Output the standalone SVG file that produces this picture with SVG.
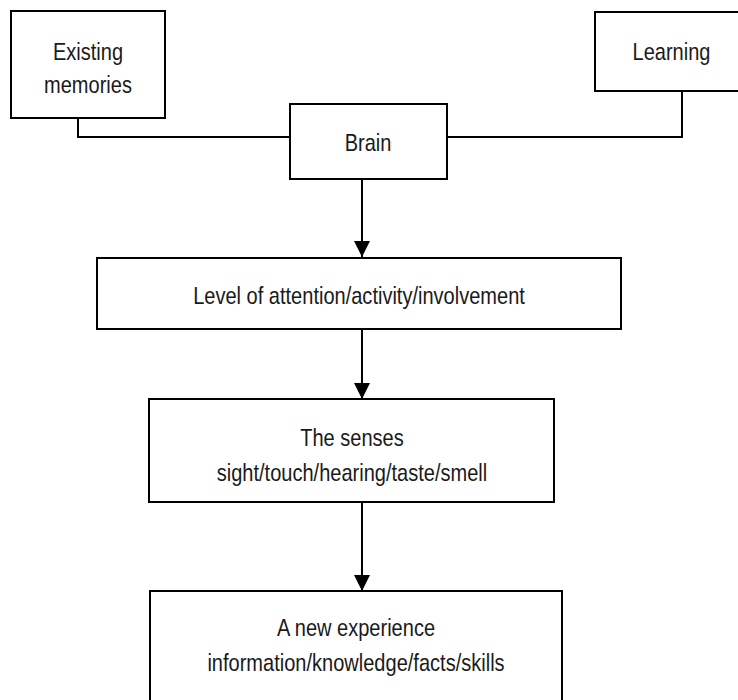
<svg xmlns="http://www.w3.org/2000/svg" width="738" height="700" viewBox="0 0 738 700">
<defs>
<style>
.box{fill:#fff;stroke:#000;stroke-width:2}
.ln{fill:none;stroke:#000;stroke-width:2}
.t{font-family:"Liberation Sans",Arial,sans-serif;font-size:24px;fill:#1a1a1a;text-anchor:middle}
</style>
<marker id="ah" markerWidth="16" markerHeight="16" viewBox="0 0 16 16" refX="16" refY="8" orient="auto" markerUnits="userSpaceOnUse">
<path d="M0,0 L16,8 L0,16 Z" fill="#000"/>
</marker>
</defs>
<rect width="738" height="700" fill="#fff"/>
<g id="connectors">
<path class="ln" d="M78,118 V137 H290"/>
<path class="ln" d="M682,91 V137 H447"/>
<path class="ln" d="M362,180 V257" marker-end="url(#ah)"/>
<path class="ln" d="M362,330 V399" marker-end="url(#ah)"/>
<path class="ln" d="M362,503 V591" marker-end="url(#ah)"/>
</g>
<g id="existing">
<rect class="box" x="11" y="11" width="154" height="107"/>
<text class="t" transform="translate(88,60) scale(0.835,1)">Existing</text>
<text class="t" transform="translate(88,93) scale(0.835,1)">memories</text>
</g>
<g id="learning">
<rect class="box" x="595" y="12" width="153" height="79"/>
<text class="t" transform="translate(671.5,60) scale(0.835,1)">Learning</text>
</g>
<g id="brain">
<rect class="box" x="290" y="104" width="157" height="75"/>
<text class="t" transform="translate(368,151) scale(0.835,1)">Brain</text>
</g>
<g id="level">
<rect class="box" x="97" y="258" width="524" height="71"/>
<text class="t" transform="translate(359,304) scale(0.835,1)">Level of attention/activity/involvement</text>
</g>
<g id="senses">
<rect class="box" x="149" y="399" width="405" height="103"/>
<text class="t" transform="translate(352,446) scale(0.835,1)">The senses</text>
<text class="t" transform="translate(352,481) scale(0.835,1)">sight/touch/hearing/taste/smell</text>
</g>
<g id="experience">
<rect class="box" x="150" y="591" width="412" height="130"/>
<text class="t" transform="translate(356,636) scale(0.835,1)">A new experience</text>
<text class="t" transform="translate(356,671) scale(0.835,1)">information/knowledge/facts/skills</text>
</g>
</svg>
